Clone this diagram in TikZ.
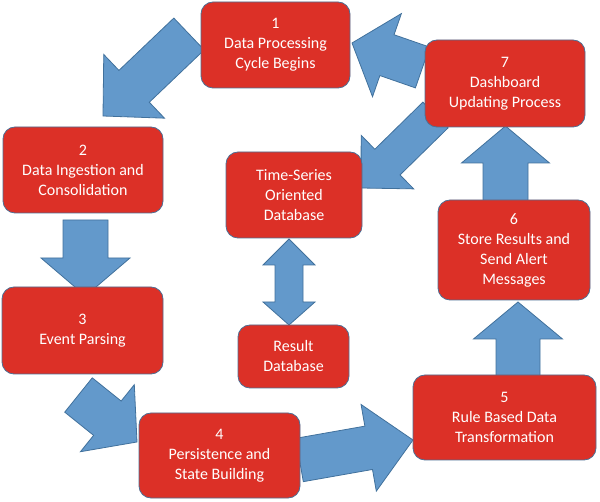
\documentclass[tikz,border=0pt]{standalone}
\usepackage{fontspec}
\setmainfont{Carlito}
\usetikzlibrary{calc}
\definecolor{boxred}{HTML}{DC3027}
\definecolor{boxedge}{HTML}{4D6F94}
\definecolor{arrfill}{HTML}{6399CB}
\definecolor{arredge}{HTML}{41719C}
\tikzset{
  stepbox/.style={draw=boxedge, fill=boxred, line width=0.8pt, rounded corners=12pt,
    text=white, align=center, font=\fontsize{16}{20}\selectfont, inner sep=0pt},
  bluearrow/.style={draw=arredge, fill=arrfill, line width=0.8pt, line join=miter}
}
% #1 tail, #2 tip, #3 shaft half width, #4 head half width, #5 head length
\newcommand\blockarrow[5]{%
  \coordinate (hb) at ($(#2)!#5!(#1)$);
  \path[bluearrow] ($(#1)!#3!90:(#2)$) -- ($(hb)!#3!-90:(#1)$) -- ($(hb)!#4!-90:(#1)$)
    -- (#2) -- ($(hb)!#4!90:(#1)$) -- ($(hb)!#3!90:(#1)$) -- ($(#1)!#3!-90:(#2)$) -- cycle;
}
\begin{document}
\begin{tikzpicture}[x=1pt,y=-1pt]
\useasboundingbox (0,0) rectangle (600,502);
% arrow end points
\coordinate (a12s) at (189,34);    \coordinate (a12t) at (103,116);
\coordinate (a23s) at (85.5,220);  \coordinate (a23t) at (85.5,296);
\coordinate (a34s) at (78.5,395);  \coordinate (a34t) at (137,442);
\coordinate (a45s) at (299.5,460); \coordinate (a45t) at (413,440);
\coordinate (a56s) at (518,378);   \coordinate (a56t) at (518,302);
\coordinate (a67s) at (505.5,203); \coordinate (a67t) at (505.5,126);
\coordinate (a71s) at (422.5,67.5);\coordinate (a71t) at (352,43);
\coordinate (a7ts) at (435.5,115); \coordinate (a7tt) at (361,188);
\coordinate (dt) at (289,239);     \coordinate (db) at (289,325);
% arrows
\blockarrow{a12s}{a12t}{22pt}{44pt}{43pt}
\blockarrow{a23s}{a23t}{22.5pt}{44.5pt}{38pt}
\blockarrow{a34s}{a34t}{22pt}{43pt}{38pt}
\blockarrow{a45s}{a45t}{22pt}{44pt}{45pt}
\blockarrow{a56s}{a56t}{22pt}{44.5pt}{37pt}
\blockarrow{a67s}{a67t}{22.5pt}{44pt}{37pt}
\blockarrow{a71s}{a71t}{21.6pt}{44pt}{37pt}
\blockarrow{a7ts}{a7tt}{18pt}{37.5pt}{37pt}
\path[bluearrow] (dt) -- ($(dt)+(26,26)$) -- ($(dt)+(14,26)$) -- ($(db)+(14,-23)$)
  -- ($(db)+(26,-23)$) -- (db) -- ($(db)+(-26,-23)$) -- ($(db)+(-14,-23)$)
  -- ($(dt)+(-14,26)$) -- ($(dt)+(-26,26)$) -- cycle;
% boxes
\node[stepbox, minimum width=149pt, minimum height=86pt] (b1) at (275.5,45) {1\\Data Processing\\Cycle Begins};
\node[stepbox, minimum width=160pt, minimum height=86pt] (b2) at (83,170) {2\\Data Ingestion and\\Consolidation};
\node[stepbox, minimum width=161pt, minimum height=87pt] (b3) at (82.5,330.5) {3\\Event Parsing};
\node[stepbox, minimum width=161pt, minimum height=85pt] (b4) at (219.5,455.5) {4\\Persistence and\\State Building};
\node[stepbox, minimum width=183pt, minimum height=85pt] (b5) at (504.5,417.5) {5\\Rule Based Data\\Transformation};
\node[stepbox, minimum width=152pt, minimum height=100pt] (b6) at (514,250) {6\\Store Results and\\Send Alert\\Messages};
\node[stepbox, minimum width=160pt, minimum height=87pt] (b7) at (505,83.5) {7\\Dashboard\\Updating Process};
\node[stepbox, minimum width=136pt, minimum height=86pt] (ts) at (294,195) {Time-Series\\Oriented\\Database};
\node[stepbox, minimum width=111pt, minimum height=63pt] (res) at (293.5,356.5) {Result\\Database};
\end{tikzpicture}
\end{document}
